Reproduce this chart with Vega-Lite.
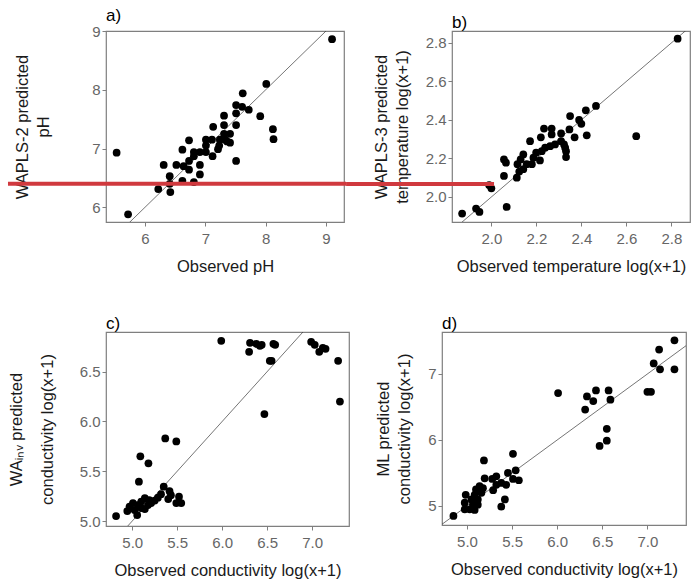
{
  "$schema": "https://vega.github.io/schema/vega-lite/v6.json",
  "padding": {"left": 6, "top": 6, "right": 2, "bottom": 4},
  "config": {
    "font": "Liberation Sans",
    "view": {"stroke": "#7f7f7f", "strokeWidth": 1.2},
    "axis": {"domain": false, "grid": false, "tickColor": "#7f7f7f", "tickSize": 4, "labelColor": "#666666", "labelFontSize": 15, "titleFontSize": 16.5, "titleColor": "#1a1a1a", "titleFontWeight": "normal", "labelFont": "Liberation Sans", "titleFont": "Liberation Sans", "titleLineHeight": 21},
    "axisX": {"labelPadding": 5, "titlePadding": 12},
    "axisY": {"labelPadding": 2},
    "title": {"anchor": "start", "frame": "group", "fontSize": 17, "fontWeight": "normal", "color": "#000000", "offset": -1, "font": "Liberation Sans"}
  },
  "datasets": {
    "one": [{"x": 0, "y": 0}, {"x": 20, "y": 20}],
    "redA": [{"x": 3.763, "x2": 9.298, "y": 6.40}],
    "redB": [{"x": 1.363, "x2": 2.003, "y": 2.068}],
    "ph": [
      {"x": 9.10, "y": 8.86}, {"x": 8.01, "y": 8.10}, {"x": 7.62, "y": 7.94}, {"x": 7.51, "y": 7.74}, {"x": 7.61, "y": 7.71}, {"x": 7.72, "y": 7.66}, {"x": 7.51, "y": 7.60}, {"x": 7.91, "y": 7.55}, {"x": 7.31, "y": 7.56}, {"x": 7.13, "y": 7.37}, {"x": 7.31, "y": 7.40}, {"x": 7.51, "y": 7.40}, {"x": 8.12, "y": 7.33}, {"x": 8.13, "y": 7.16}, {"x": 7.31, "y": 7.25}, {"x": 7.41, "y": 7.25}, {"x": 7.24, "y": 7.15}, {"x": 7.33, "y": 7.15}, {"x": 7.41, "y": 7.10}, {"x": 7.01, "y": 7.15}, {"x": 7.11, "y": 7.15}, {"x": 6.73, "y": 7.14}, {"x": 7.23, "y": 7.05}, {"x": 7.01, "y": 7.05}, {"x": 6.62, "y": 6.98}, {"x": 5.53, "y": 6.93}, {"x": 6.81, "y": 6.94}, {"x": 6.91, "y": 6.94}, {"x": 7.01, "y": 6.94}, {"x": 7.12, "y": 6.87}, {"x": 6.81, "y": 6.87}, {"x": 6.73, "y": 6.79}, {"x": 7.51, "y": 6.79}, {"x": 6.31, "y": 6.72}, {"x": 6.52, "y": 6.72}, {"x": 6.64, "y": 6.70}, {"x": 6.91, "y": 6.72}, {"x": 6.73, "y": 6.64}, {"x": 6.91, "y": 6.56}, {"x": 6.41, "y": 6.53}, {"x": 6.62, "y": 6.45}, {"x": 6.81, "y": 6.43}, {"x": 6.41, "y": 6.40}, {"x": 6.22, "y": 6.31}, {"x": 6.42, "y": 6.26}, {"x": 5.72, "y": 5.88}, {"x": 7.21, "y": 6.99}, {"x": 7.36, "y": 7.12}
    ],
    "temp": [
      {"x": 2.828, "y": 2.822}, {"x": 2.644, "y": 2.316}, {"x": 2.465, "y": 2.473}, {"x": 2.42, "y": 2.45}, {"x": 2.35, "y": 2.42}, {"x": 2.39, "y": 2.40}, {"x": 2.40, "y": 2.38}, {"x": 2.234, "y": 2.355}, {"x": 2.268, "y": 2.355}, {"x": 2.347, "y": 2.351}, {"x": 2.268, "y": 2.325}, {"x": 2.31, "y": 2.33}, {"x": 2.22, "y": 2.31}, {"x": 2.37, "y": 2.31}, {"x": 2.424, "y": 2.32}, {"x": 2.172, "y": 2.29}, {"x": 2.31, "y": 2.29}, {"x": 2.283, "y": 2.273}, {"x": 2.261, "y": 2.264}, {"x": 2.323, "y": 2.273}, {"x": 2.239, "y": 2.256}, {"x": 2.328, "y": 2.256}, {"x": 2.224, "y": 2.238}, {"x": 2.332, "y": 2.238}, {"x": 2.199, "y": 2.23}, {"x": 2.142, "y": 2.221}, {"x": 2.187, "y": 2.204}, {"x": 2.332, "y": 2.207}, {"x": 2.056, "y": 2.195}, {"x": 2.13, "y": 2.195}, {"x": 2.216, "y": 2.19}, {"x": 2.065, "y": 2.178}, {"x": 2.116, "y": 2.17}, {"x": 2.157, "y": 2.17}, {"x": 2.18, "y": 2.17}, {"x": 2.142, "y": 2.144}, {"x": 2.124, "y": 2.132}, {"x": 2.056, "y": 2.109}, {"x": 2.113, "y": 2.10}, {"x": 1.99, "y": 2.062}, {"x": 2.0, "y": 2.045}, {"x": 2.068, "y": 1.948}, {"x": 1.87, "y": 1.914}, {"x": 1.932, "y": 1.94}, {"x": 1.947, "y": 1.922}
    ],
    "condWA": [
      {"x": 5.367, "y": 5.83}, {"x": 5.49, "y": 5.80}, {"x": 5.09, "y": 5.65}, {"x": 5.18, "y": 5.58}, {"x": 5.074, "y": 5.395}, {"x": 5.35, "y": 5.345}, {"x": 5.415, "y": 5.30}, {"x": 5.43, "y": 5.26}, {"x": 5.32, "y": 5.27}, {"x": 5.285, "y": 5.235}, {"x": 5.52, "y": 5.245}, {"x": 5.40, "y": 5.22}, {"x": 5.545, "y": 5.18}, {"x": 5.49, "y": 5.18}, {"x": 5.25, "y": 5.205}, {"x": 5.19, "y": 5.21}, {"x": 5.14, "y": 5.23}, {"x": 5.10, "y": 5.195}, {"x": 5.175, "y": 5.16}, {"x": 5.063, "y": 5.16}, {"x": 5.008, "y": 5.18}, {"x": 4.97, "y": 5.145}, {"x": 5.10, "y": 5.13}, {"x": 5.026, "y": 5.11}, {"x": 4.945, "y": 5.10}, {"x": 5.14, "y": 5.12}, {"x": 5.055, "y": 5.06}, {"x": 4.82, "y": 5.05}, {"x": 5.21, "y": 5.18}, {"x": 5.99, "y": 6.81}, {"x": 6.31, "y": 6.79}, {"x": 6.30, "y": 6.70}, {"x": 6.38, "y": 6.78}, {"x": 6.44, "y": 6.77}, {"x": 6.42, "y": 6.76}, {"x": 6.53, "y": 6.61}, {"x": 6.55, "y": 6.61}, {"x": 6.57, "y": 6.78}, {"x": 6.59, "y": 6.77}, {"x": 6.47, "y": 6.075}, {"x": 6.99, "y": 6.80}, {"x": 7.03, "y": 6.77}, {"x": 7.08, "y": 6.70}, {"x": 7.12, "y": 6.74}, {"x": 7.15, "y": 6.73}, {"x": 7.29, "y": 6.61}, {"x": 7.31, "y": 6.20}
    ],
    "condML": [
      {"x": 7.30, "y": 7.51}, {"x": 7.13, "y": 7.37}, {"x": 7.07, "y": 7.16}, {"x": 7.14, "y": 7.07}, {"x": 7.30, "y": 7.07}, {"x": 7.00, "y": 6.73}, {"x": 7.04, "y": 6.73}, {"x": 6.01, "y": 6.71}, {"x": 6.33, "y": 6.66}, {"x": 6.31, "y": 6.46}, {"x": 6.40, "y": 6.59}, {"x": 6.43, "y": 6.75}, {"x": 6.57, "y": 6.75}, {"x": 6.59, "y": 6.61}, {"x": 6.55, "y": 6.17}, {"x": 6.55, "y": 5.99}, {"x": 6.47, "y": 5.91}, {"x": 5.188, "y": 5.69}, {"x": 5.51, "y": 5.79}, {"x": 5.454, "y": 5.50}, {"x": 5.54, "y": 5.54}, {"x": 5.51, "y": 5.41}, {"x": 5.575, "y": 5.39}, {"x": 5.325, "y": 5.45}, {"x": 5.28, "y": 5.41}, {"x": 5.196, "y": 5.42}, {"x": 5.38, "y": 5.35}, {"x": 5.435, "y": 5.32}, {"x": 5.325, "y": 5.32}, {"x": 5.29, "y": 5.24}, {"x": 5.14, "y": 5.30}, {"x": 5.10, "y": 5.25}, {"x": 5.177, "y": 5.27}, {"x": 5.16, "y": 5.20}, {"x": 4.986, "y": 5.17}, {"x": 5.085, "y": 5.17}, {"x": 5.05, "y": 5.10}, {"x": 5.12, "y": 5.10}, {"x": 5.42, "y": 5.10}, {"x": 4.975, "y": 5.05}, {"x": 5.066, "y": 5.02}, {"x": 5.12, "y": 5.02}, {"x": 5.38, "y": 4.99}, {"x": 4.975, "y": 4.95}, {"x": 5.03, "y": 4.95}, {"x": 5.085, "y": 4.94}, {"x": 4.85, "y": 4.85}
    ]
  },
  "vconcat": [
    {
      "spacing": -4,
      "hconcat": [
        {
          "title": "a)",
          "width": 238, "height": 191,
          "encoding": {
            "x": {"field": "x", "type": "quantitative", "scale": {"domain": [5.354, 9.298], "nice": false, "zero": false}, "axis": {"title": "Observed pH", "values": [6, 7, 8, 9], "format": "d"}},
            "y": {"field": "y", "type": "quantitative", "scale": {"domain": [5.75, 9.0], "nice": false, "zero": false}, "axis": {"title": ["WAPLS-2 predicted", "pH"], "values": [6, 7, 8, 9], "format": "d", "titlePadding": 40}}
          },
          "layer": [
            {"data": {"name": "one"}, "mark": {"type": "line", "clip": true, "color": "#3a3a3a", "strokeWidth": 0.7}},
            {"data": {"name": "ph"}, "mark": {"type": "point", "filled": true, "color": "#000000", "size": 60, "opacity": 1}},
            {"data": {"name": "redA"}, "mark": {"type": "rule", "color": "#d0393e", "strokeWidth": 4, "strokeCap": "square"}, "encoding": {"x2": {"field": "x2"}}}
          ]
        },
        {
          "title": "b)",
          "width": 238, "height": 191,
          "encoding": {
            "x": {"field": "x", "type": "quantitative", "scale": {"domain": [1.825, 2.883], "nice": false, "zero": false}, "axis": {"title": "Observed temperature log(x+1)", "values": [2.0, 2.2, 2.4, 2.6, 2.8], "format": ".1f"}},
            "y": {"field": "y", "type": "quantitative", "scale": {"domain": [1.870, 2.862], "nice": false, "zero": false}, "axis": {"title": ["WAPLS-3 predicted", "temperature log(x+1)"], "values": [2.0, 2.2, 2.4, 2.6, 2.8], "format": ".1f", "titlePadding": 15}}
          },
          "layer": [
            {"data": {"name": "one"}, "mark": {"type": "line", "clip": true, "color": "#3a3a3a", "strokeWidth": 0.7}},
            {"data": {"name": "temp"}, "mark": {"type": "point", "filled": true, "color": "#000000", "size": 60, "opacity": 1}},
            {"data": {"name": "redB"}, "mark": {"type": "rule", "color": "#d0393e", "strokeWidth": 4, "strokeCap": "square"}, "encoding": {"x2": {"field": "x2"}}}
          ]
        }
      ]
    },
    {
      "spacing": 25,
      "hconcat": [
        {
          "title": "c)",
          "width": 243, "height": 194,
          "encoding": {
            "x": {"field": "x", "type": "quantitative", "scale": {"domain": [4.708, 7.411], "nice": false, "zero": false}, "axis": {"title": "Observed conductivity log(x+1)", "values": [5.0, 5.5, 6.0, 6.5, 7.0], "format": ".1f"}},
            "y": {"field": "y", "type": "quantitative", "scale": {"domain": [4.95, 6.899], "nice": false, "zero": false}, "axis": {"title": ["WAᵢₙᵥ predicted", "conductivity log(x+1)"], "values": [5.0, 5.5, 6.0, 6.5], "format": ".1f", "titlePadding": 24, "titleLineHeight": 31}}
          },
          "layer": [
            {"data": {"name": "one"}, "mark": {"type": "line", "clip": true, "color": "#3a3a3a", "strokeWidth": 0.7}},
            {"data": {"name": "condWA"}, "mark": {"type": "point", "filled": true, "color": "#000000", "size": 60, "opacity": 1}}
          ]
        },
        {
          "title": "d)",
          "width": 244, "height": 193,
          "encoding": {
            "x": {"field": "x", "type": "quantitative", "scale": {"domain": [4.723, 7.428], "nice": false, "zero": false}, "axis": {"title": "Observed conductivity log(x+1)", "values": [5.0, 5.5, 6.0, 6.5, 7.0], "format": ".1f"}},
            "y": {"field": "y", "type": "quantitative", "scale": {"domain": [4.712, 7.636], "nice": false, "zero": false}, "axis": {"title": ["ML predicted", "conductivity log(x+1)"], "values": [5, 6, 7], "format": "d", "titlePadding": 15}}
          },
          "layer": [
            {"data": {"name": "one"}, "mark": {"type": "line", "clip": true, "color": "#3a3a3a", "strokeWidth": 0.7}},
            {"data": {"name": "condML"}, "mark": {"type": "point", "filled": true, "color": "#000000", "size": 60, "opacity": 1}}
          ]
        }
      ]
    }
  ],
  "spacing": 38
}
